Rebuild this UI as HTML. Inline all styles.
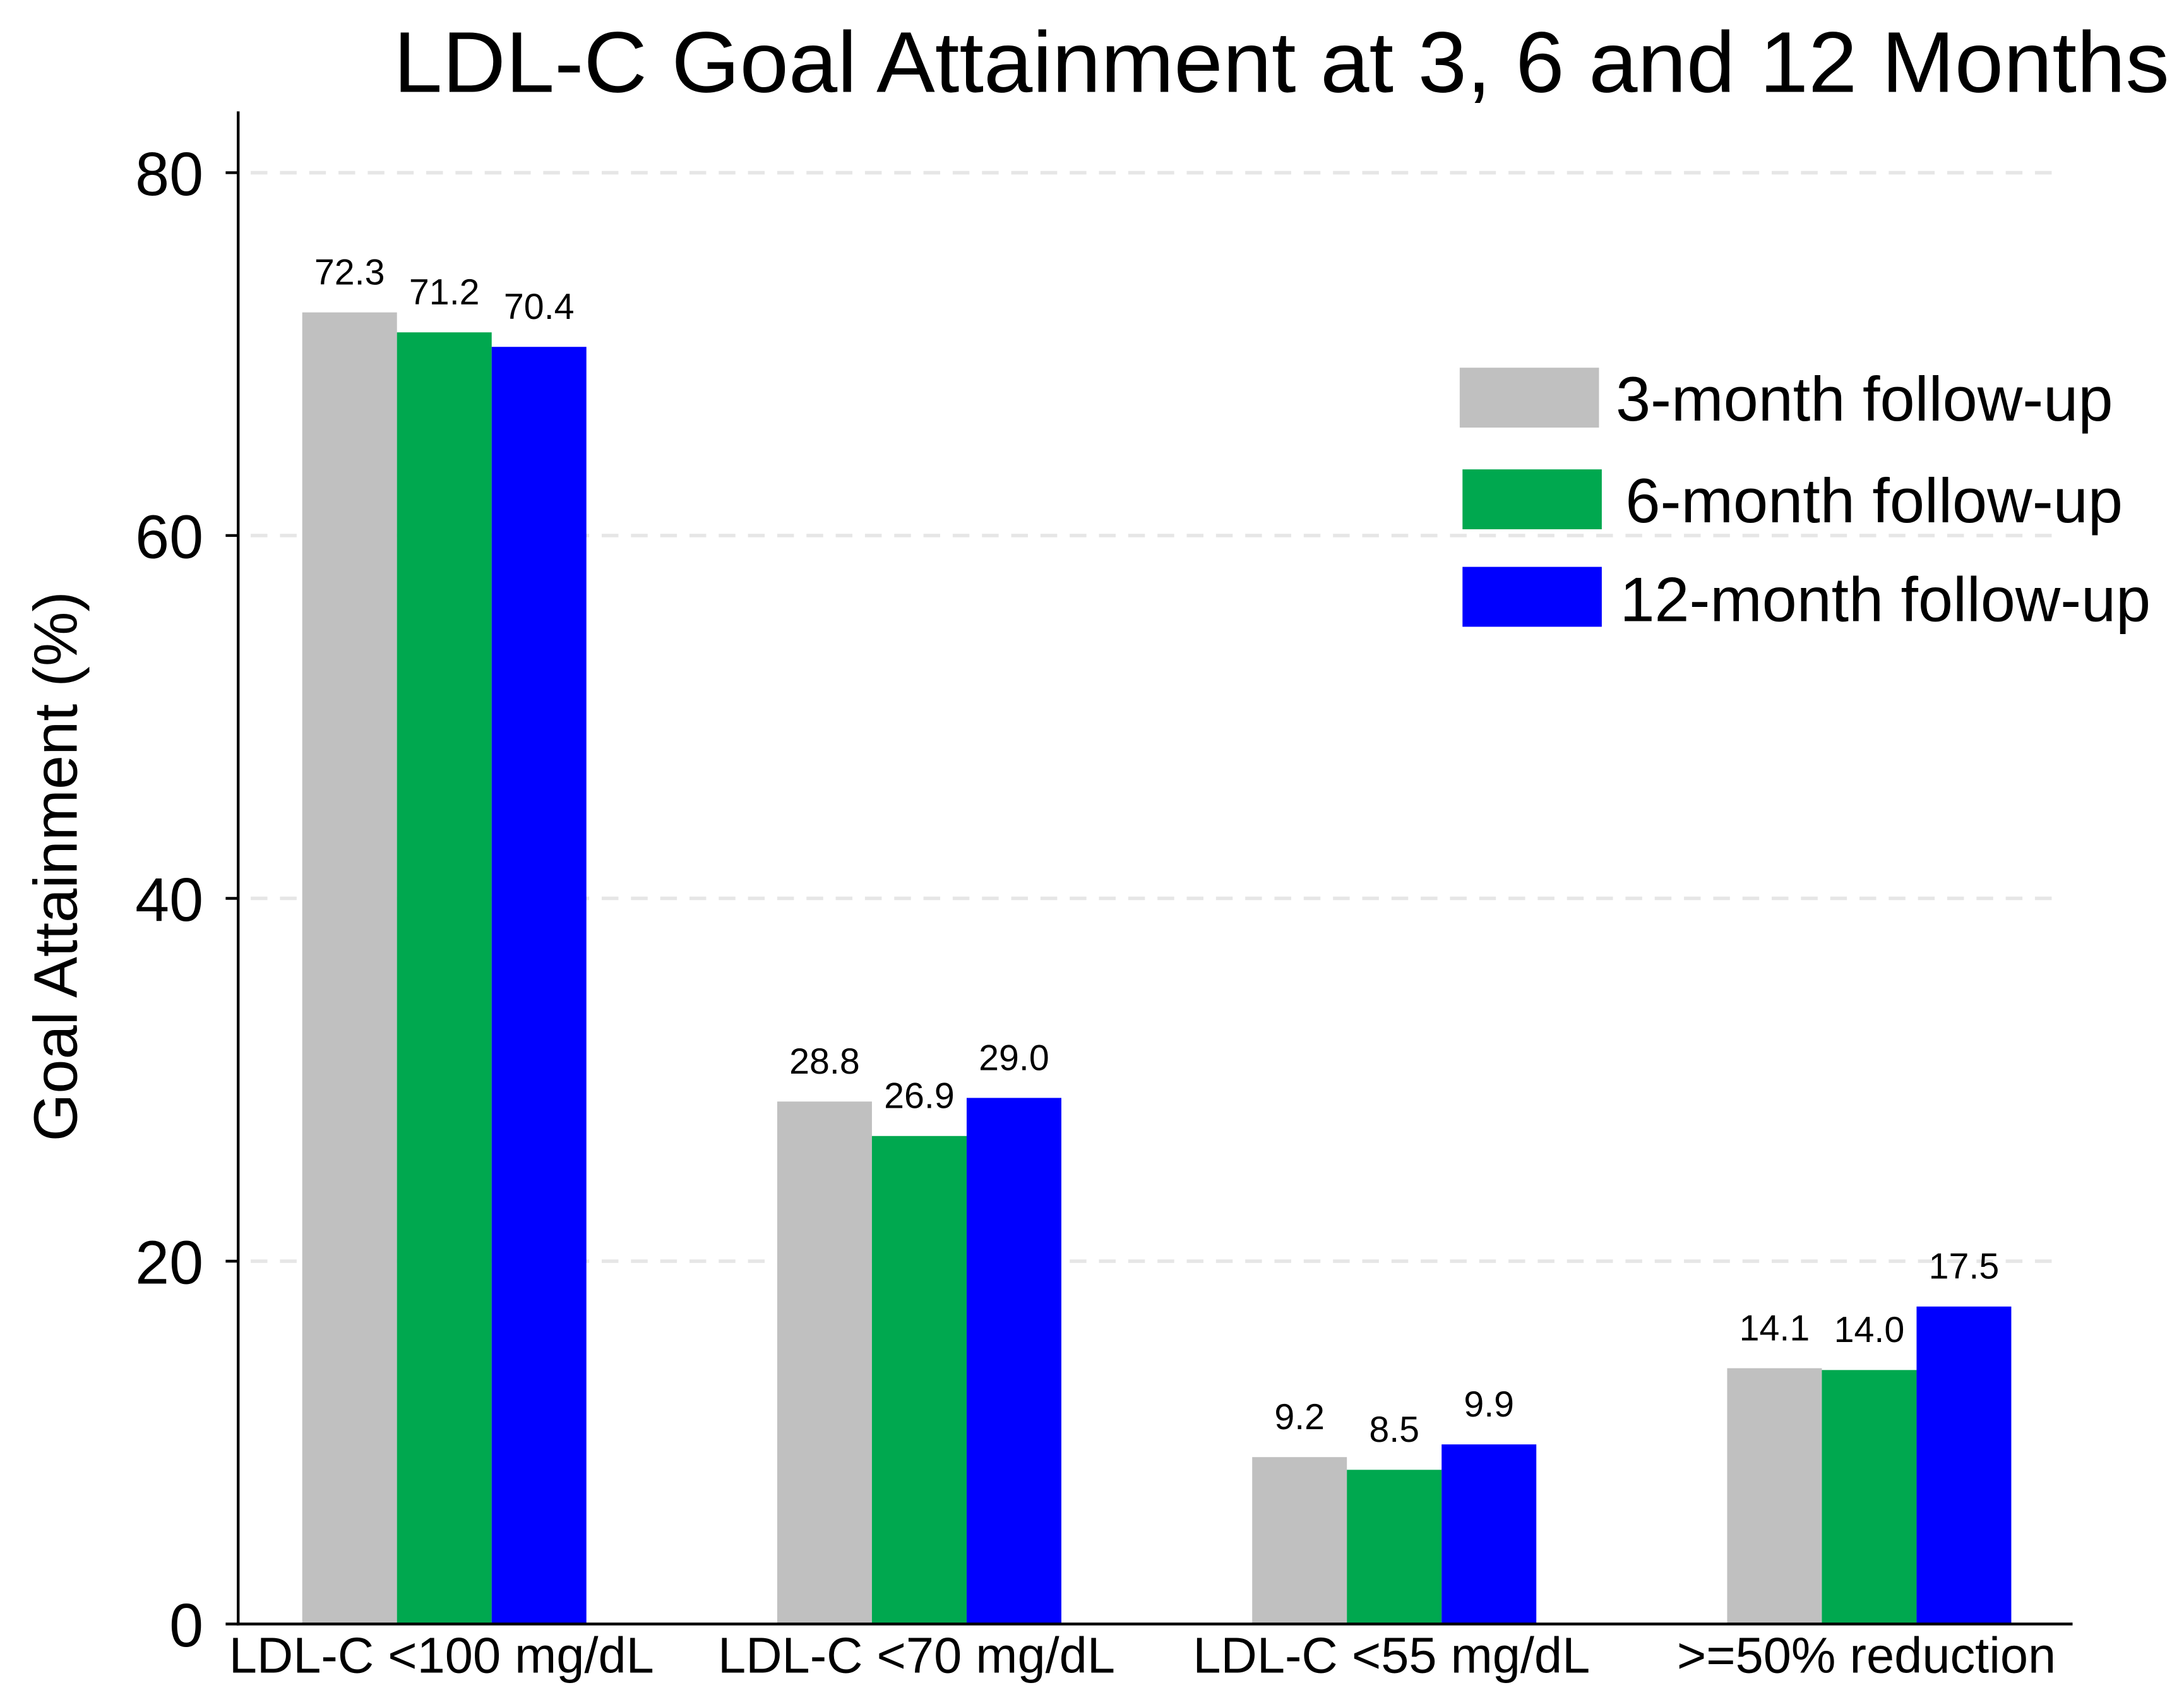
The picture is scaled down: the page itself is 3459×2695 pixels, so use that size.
<!DOCTYPE html>
<html><head><meta charset="utf-8"><style>
html,body{margin:0;padding:0;background:#fff}
svg{display:block}
text{font-family:"Liberation Sans",Arial,sans-serif;fill:#000}
</style></head><body>
<svg id="chart" width="3459" height="2695" viewBox="0 0 1568 1222" preserveAspectRatio="none" xmlns="http://www.w3.org/2000/svg">
<rect width="1568" height="1222" fill="#fff"/>
<text x="920" y="66" font-size="62" text-anchor="middle" textLength="1275" lengthAdjust="spacingAndGlyphs">LDL-C Goal Attainment at 3, 6 and 12 Months</text>
<g id="grid"></g>
<g id="bars"></g>
<g id="axes"></g>
<text transform="translate(55,622) rotate(-90)" font-size="44" text-anchor="middle" textLength="395" lengthAdjust="spacingAndGlyphs">Goal Attainment (%)</text>
<g>
<rect x="1048" y="264" width="100" height="43" fill="#c0c0c0"/>
<text x="1160" y="302" font-size="45" textLength="357" lengthAdjust="spacingAndGlyphs">3-month follow-up</text>
<rect x="1050" y="337" width="100" height="43" fill="#00a84f"/>
<text x="1167" y="375" font-size="45" textLength="357" lengthAdjust="spacingAndGlyphs">6-month follow-up</text>
<rect x="1050" y="407" width="100" height="43" fill="#0000ff"/>
<text x="1163" y="446" font-size="45" textLength="381" lengthAdjust="spacingAndGlyphs">12-month follow-up</text>
</g>
</svg>
<script>
const categories = ["LDL-C <100 mg/dL","LDL-C <70 mg/dL","LDL-C <55 mg/dL",">=50% reduction"];
const seriesNames = ["3-month","6-month","12-month"];
const month3 = [72.3, 28.8, 9.2, 14.1];
const month6 = [71.2, 26.9, 8.5, 14.0];
const month12 = [70.4, 29.0, 9.9, 17.5];
const yTicks = [0, 20, 40, 60, 80];

const NS = "http://www.w3.org/2000/svg";
const colors = ["#c0c0c0","#00a84f","#0000ff"];
const series = [month3, month6, month12];
const y0 = 1166, yTop = 124, yMax = 80;
function yScale(v){ return y0 - (v / yMax) * (y0 - yTop); }
const x0 = 319, step = 341, bw = 68;
function xCenter(i){ return x0 + i * step; }
function mk(tag, attrs, parent){
  const el = document.createElementNS(NS, tag);
  for (const k in attrs) el.setAttribute(k, attrs[k]);
  parent.appendChild(el);
  return el;
}
const grid = document.getElementById("grid");
const axes = document.getElementById("axes");
const bars = document.getElementById("bars");
yTicks.forEach(t => {
  const y = yScale(t);
  if (t > 0) {
    const g = mk("line", {x1:180, x2:1478, y1:y, y2:y, stroke:"#e6e6e6", "stroke-width":2.5, "stroke-dasharray":"12,9"}, grid);
    
    
  }
  const tk = mk("line", {x1:162, x2:171, y1:y, y2:y, stroke:"#000", "stroke-width":2}, axes);
  
  
  const lb = mk("text", {x:146, y:y + 16, "font-size":44, "text-anchor":"end"}, axes);
  lb.textContent = t;
  
  
});
const ya = mk("line", {x1:171, x2:171, y1:80, y2:1167, stroke:"#000", "stroke-width":2}, axes);


const xa = mk("line", {x1:170, x2:1488, y1:1166, y2:1166, stroke:"#000", "stroke-width":2}, axes);


categories.forEach((c, i) => {
  const lb = mk("text", {x:xCenter(i) - 2, y:1201, "font-size":36, "text-anchor":"middle"}, axes);
  lb.textContent = c;
  
  
  series.forEach((s, j) => {
    const v = s[i];
    const x = xCenter(i) + (j - 1.5) * bw;
    const y = yScale(v);
    const r = mk("rect", {x:x, y:y, width:bw, height:y0 - y, fill:colors[j]}, bars);
    
    
    const t = mk("text", {x:x + bw / 2, y:y - 20, "font-size":26, "text-anchor":"middle"}, bars);
    t.textContent = v.toFixed(1);
    
    
  });
});
</script>
</body></html>
